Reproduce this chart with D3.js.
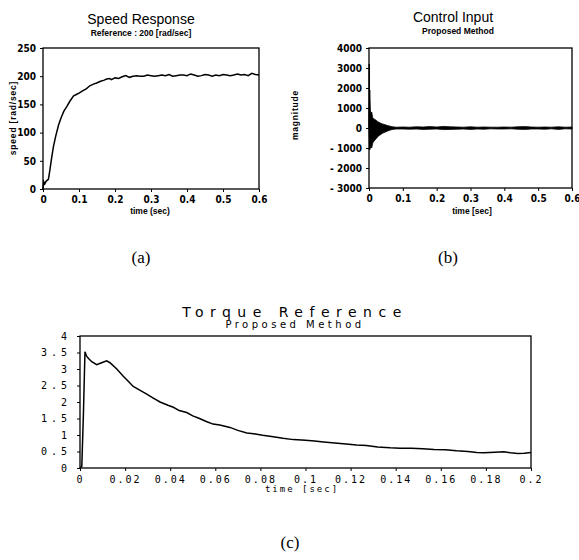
<!DOCTYPE html>
<html lang="en">
<head>
<meta charset="UTF-8">
<title>Speed Response / Control Input / Torque Reference</title>
<script src="https://d3js.org/d3.v7.min.js"></script>
<style>
    body { margin: 0; background: #fff; }
    .tick text { font-family: "Liberation Sans Narrow", "DejaVu Sans Condensed", sans-serif; font-weight: bold; font-size: 10px; }
    .mono .tick text { font-family: "DejaVu Sans Mono", monospace; font-weight: normal; font-size: 10px; }
    .axis path { display: none; }
    .axis line { stroke: #000; stroke-width: 1; }
</style>
</head>
<body>
<div id="chart"></div>
<script>
// (a) speed response [time, rad/sec]
const speedData = [
    [0, 0], [0.002, 13], [0.005, 9], [0.009, 14], [0.015, 17], [0.019, 33], [0.024, 55],
    [0.029, 75], [0.035, 93], [0.043, 113], [0.05, 126], [0.058, 138], [0.066, 146],
    [0.075, 156], [0.085, 165], [0.094, 168], [0.1, 170], [0.11, 174], [0.121, 178],
    [0.13, 183], [0.14, 186], [0.149, 188], [0.16, 191], [0.17, 193], [0.177, 195],
    [0.185, 196], [0.19, 194], [0.2, 197], [0.21, 196], [0.22, 199], [0.23, 201],
    [0.24, 198], [0.25, 200], [0.26, 201], [0.27, 200], [0.28, 200], [0.29, 202],
    [0.3, 201], [0.31, 200], [0.32, 201], [0.33, 202], [0.34, 201], [0.35, 203],
    [0.36, 200], [0.37, 201], [0.38, 202], [0.39, 202], [0.4, 201], [0.41, 204],
    [0.42, 202], [0.43, 200], [0.44, 201], [0.45, 203], [0.46, 202], [0.47, 200],
    [0.48, 202], [0.49, 201], [0.5, 203], [0.51, 202], [0.52, 201], [0.53, 202],
    [0.54, 204], [0.55, 202], [0.56, 203], [0.57, 201], [0.58, 205], [0.59, 203], [0.6, 202]
];

// (b) control input: envelope of the oscillation band
const ctrlTime  = [0, 0.002, 0.004, 0.006, 0.008, 0.011, 0.015, 0.02, 0.025, 0.03, 0.035, 0.04, 0.045, 0.05, 0.055, 0.06, 0.065, 0.07, 0.075, 0.08, 0.1, 0.12, 0.14, 0.16, 0.18, 0.2, 0.22, 0.24, 0.26, 0.28, 0.3, 0.32, 0.34, 0.36, 0.38, 0.4, 0.42, 0.44, 0.46, 0.48, 0.5, 0.52, 0.54, 0.56, 0.58, 0.6];
const ctrlUpper = [0, 1900, 900, 700, 800, 500, 450, 400, 330, 280, 240, 200, 180, 150, 120, 100, 80, 60, 50, 40, 50, 40, 60, 50, 70, 50, 80, 60, 50, 40, 60, 40, 50, 40, 40, 50, 40, 60, 70, 50, 40, 50, 40, 60, 40, 50];
const ctrlLower = [0, -1100, -1000, -900, -1000, -750, -650, -560, -450, -380, -320, -260, -230, -190, -150, -120, -90, -70, -60, -50, -50, -60, -50, -70, -60, -50, -80, -70, -60, -50, -70, -50, -60, -40, -50, -50, -40, -60, -70, -50, -50, -60, -40, -70, -40, -50];
const ctrlSpike = [[0, 0], [0.0008, 3200], [0.0014, -1100], [0.002, 1900]];

// (c) torque reference
const torqueData = [
    [0, 0], [0.0008, 0.05], [0.0015, 1.6], [0.0022, 3.52], [0.003, 3.38], [0.004, 3.3],
    [0.0052, 3.22], [0.0074, 3.13], [0.0096, 3.19], [0.0118, 3.25], [0.0133, 3.19],
    [0.0163, 3.0], [0.0192, 2.78], [0.0215, 2.62], [0.0236, 2.47], [0.0265, 2.36],
    [0.0296, 2.24], [0.0325, 2.12], [0.0355, 2.0], [0.039, 1.9], [0.0414, 1.84],
    [0.044, 1.74], [0.0473, 1.68], [0.05, 1.58], [0.053, 1.5], [0.056, 1.41],
    [0.059, 1.33], [0.062, 1.3], [0.0665, 1.23], [0.07, 1.14], [0.074, 1.06],
    [0.077, 1.04], [0.081, 0.99], [0.0857, 0.95], [0.09, 0.9], [0.0946, 0.86],
    [0.1, 0.84], [0.104, 0.82], [0.108, 0.79], [0.113, 0.76], [0.118, 0.73],
    [0.1227, 0.7], [0.127, 0.68], [0.132, 0.64], [0.1375, 0.61], [0.142, 0.6],
    [0.147, 0.6], [0.152, 0.58], [0.157, 0.56], [0.162, 0.55], [0.167, 0.52],
    [0.172, 0.5], [0.176, 0.47], [0.179, 0.46], [0.184, 0.48], [0.188, 0.49],
    [0.191, 0.46], [0.194, 0.44], [0.197, 0.45], [0.2, 0.47]
];

const speedTicks = [0, 50, 100, 150, 200, 250];
const ctrlTicks = [-3000, -2000, -1000, 0, 1000, 2000, 3000, 4000];
const timeTicks = [0, 0.1, 0.2, 0.3, 0.4, 0.5, 0.6];
const torqueTicks = [0, 0.5, 1, 1.5, 2, 2.5, 3, 3.5, 4];
const torqueTimeTicks = [0, 0.02, 0.04, 0.06, 0.08, 0.1, 0.12, 0.14, 0.16, 0.18, 0.2];

const svg = d3.select("#chart").append("svg")
    .attr("width", 579)
    .attr("height", 560);

function panel(box, xDomain, yDomain, xTicks, yTicks, mono) {
    const x = d3.scaleLinear().domain(xDomain).range([box.left, box.right]);
    const y = d3.scaleLinear().domain(yDomain).range([box.bottom, box.top]);

    const g = svg.append("g").attr("class", mono ? "mono" : null);

    const xAxis = d3.axisBottom(x).tickValues(xTicks).tickSize(3).tickPadding(mono ? 5 : 4)
        .tickFormat(d => d === 0 ? "0" : String(d));
    const yAxis = d3.axisLeft(y).tickValues(yTicks).tickSize(3).tickPadding(mono ? 6 : 4)
        .tickFormat(d => mono ? String(d) : (d < 0 ? "- " + Math.abs(d) : String(d)));

    const gx = g.append("g").attr("class", "axis")
        .attr("transform", `translate(0,${box.bottom})`).call(xAxis);
    const gy = g.append("g").attr("class", "axis")
        .attr("transform", `translate(${box.left},0)`).call(yAxis);
    if (mono) {
        gx.selectAll("text").style("letter-spacing", "2px");
        gy.selectAll("text").style("letter-spacing", "4px");
    }

    g.append("rect")
        .attr("x", box.left).attr("y", box.top)
        .attr("width", box.right - box.left).attr("height", box.bottom - box.top)
        .attr("fill", "none").attr("stroke", "#000").attr("stroke-width", 1.3);

    return { g, x, y };
}

function label(txt, x, y, opts) {
    const t = svg.append("text")
        .attr("x", x).attr("y", y)
        .attr("text-anchor", "middle")
        .style("font-family", opts.family || "'Liberation Sans', sans-serif")
        .style("font-size", opts.size + "px")
        .style("font-weight", opts.bold ? "bold" : "normal")
        .style("letter-spacing", (opts.spacing || 0) + "px")
        .text(txt);
    if (opts.rotate) t.attr("transform", `rotate(-90,${x},${y})`);
    return t;
}

// ---- (a) Speed Response
const a = panel({ left: 43, right: 259, top: 48, bottom: 189 }, [0, 0.6], [0, 250], timeTicks, speedTicks, false);
a.g.append("path")
    .datum(speedData)
    .attr("d", d3.line().x(d => a.x(d[0])).y(d => a.y(d[1])))
    .attr("fill", "none").attr("stroke", "#000").attr("stroke-width", 1.5);

label("Speed Response", 141, 24, { size: 14 });
label("Reference : 200 [rad/sec]", 141, 36, { size: 8.5, bold: true });
label("speed [rad/sec]", 16, 118, { size: 8.5, bold: true, rotate: true, spacing: 0.8 });
label("time (sec)", 150, 214, { size: 8.5, bold: true });
label("(a)", 141, 263, { size: 17, family: "'Liberation Serif', serif" });

// ---- (b) Control Input
const b = panel({ left: 369, right: 572, top: 48, bottom: 188 }, [0, 0.6], [-3000, 4000], timeTicks, ctrlTicks, false);
const ctrlBand = ctrlTime.map((t, i) => ({ t, hi: ctrlUpper[i], lo: ctrlLower[i] }));
b.g.append("path")
    .datum(ctrlBand)
    .attr("d", d3.area().x(d => b.x(d.t)).y0(d => b.y(d.lo)).y1(d => b.y(d.hi)))
    .attr("fill", "#000").attr("stroke", "#000").attr("stroke-width", 0.8);
b.g.append("path")
    .datum(ctrlSpike)
    .attr("d", d3.line().x(d => b.x(d[0])).y(d => b.y(d[1])))
    .attr("fill", "none").attr("stroke", "#000").attr("stroke-width", 1);

label("Control Input", 453, 22, { size: 14 });
label("Proposed Method", 458, 34, { size: 8.5, bold: true });
label("magnitude", 298, 115, { size: 8.5, bold: true, rotate: true, spacing: 0.8 });
label("time [sec]", 472, 214, { size: 8.5, bold: true });
label("(b)", 448, 263, { size: 17, family: "'Liberation Serif', serif" });

// ---- (c) Torque Reference
const c = panel({ left: 80, right: 531, top: 336, bottom: 468 }, [0, 0.2], [0, 4], torqueTimeTicks, torqueTicks, true);
c.g.append("path")
    .datum(torqueData)
    .attr("d", d3.line().x(d => c.x(d[0])).y(d => c.y(d[1])))
    .attr("fill", "none").attr("stroke", "#000").attr("stroke-width", 1.5);

label("Torque Reference", 295, 317, { size: 14, spacing: 6.5, family: "'DejaVu Sans', sans-serif" });
label("Proposed Method", 295, 328, { size: 10, spacing: 3.5, family: "'DejaVu Sans', sans-serif" });
label("time [sec]", 302, 492, { size: 9, spacing: 2, family: "'DejaVu Sans Mono', monospace" });
label("(c)", 290, 548, { size: 17, family: "'Liberation Serif', serif" });
</script>
</body>
</html>
